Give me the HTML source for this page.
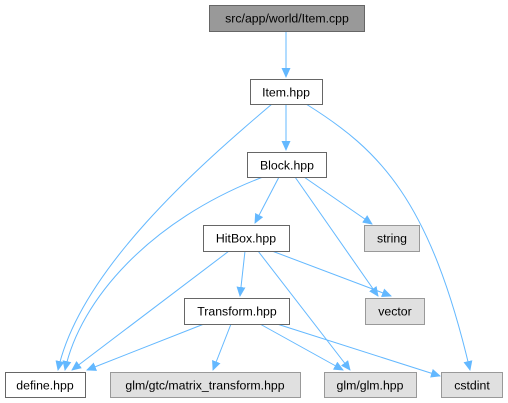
<!DOCTYPE html><html><head><style>body{margin:0;background:#fff}svg{display:block}text{font-family:"Liberation Sans",sans-serif;font-size:12.3px;text-anchor:middle}</style></head><body>
<svg width="508" height="403" viewBox="0 0 508 403">
<defs><marker id="a" markerWidth="10" markerHeight="9" refX="9" refY="4.5" orient="auto" markerUnits="userSpaceOnUse"><path d="M0,0L10,4.5L0,9z" fill="#63b8ff"/></marker></defs>
<g fill="none" stroke="#63b8ff" stroke-width="1" marker-end="url(#a)">
<path d="M286,31L286,77"/>
<path d="M286,104L286,150"/>
<path d="M272,104C200,165 80,270 58,370"/>
<path d="M306,104C380,150 430,200 470,370"/>
<path d="M263,177C150,220 80,300 65,370"/>
<path d="M279,177L255,223"/>
<path d="M295,177L378,296"/>
<path d="M304,177L372,224"/>
<path d="M229,251L72,370"/>
<path d="M245,251L240,296"/>
<path d="M272,251L391,296"/>
<path d="M258,251L350,370"/>
<path d="M204,324L87,370"/>
<path d="M231,324L213,370"/>
<path d="M260,324L343,370"/>
<path d="M277,324L440,376"/>
</g>
<g stroke-width="1">
<rect x="209.5" y="5.5" width="155" height="26" fill="#999" stroke="#666"/>
<rect x="250.5" y="79.5" width="72" height="25" fill="#fff" stroke="#666"/>
<rect x="247.5" y="152.5" width="79" height="25" fill="#fff" stroke="#666"/>
<rect x="203.5" y="225.5" width="86" height="26" fill="#fff" stroke="#666"/>
<rect x="364.5" y="225.5" width="55" height="26" fill="#e0e0e0" stroke="#999"/>
<rect x="184.5" y="298.5" width="105" height="26" fill="#fff" stroke="#666"/>
<rect x="365.5" y="298.5" width="59" height="26" fill="#e0e0e0" stroke="#999"/>
<rect x="5.5" y="372.5" width="80" height="25" fill="#fff" stroke="#666"/>
<rect x="110.5" y="372.5" width="190" height="25" fill="#e0e0e0" stroke="#999"/>
<rect x="324.5" y="372.5" width="92" height="25" fill="#e0e0e0" stroke="#999"/>
<rect x="441.5" y="372.5" width="61" height="25" fill="#e0e0e0" stroke="#999"/>
</g>
<text x="287" y="22.5">src/app/world/Item.cpp</text>
<text x="286" y="96.5">Item.hpp</text>
<text x="287" y="169.5">Block.hpp</text>
<text x="246" y="242.5">HitBox.hpp</text>
<text x="392" y="242.5">string</text>
<text x="237" y="315.5">Transform.hpp</text>
<text x="395" y="315.5">vector</text>
<text x="45" y="389.5">define.hpp</text>
<text x="205" y="389.5">glm/gtc/matrix_transform.hpp</text>
<text x="370" y="389.5">glm/glm.hpp</text>
<text x="472" y="389.5">cstdint</text>
</svg></body></html>
